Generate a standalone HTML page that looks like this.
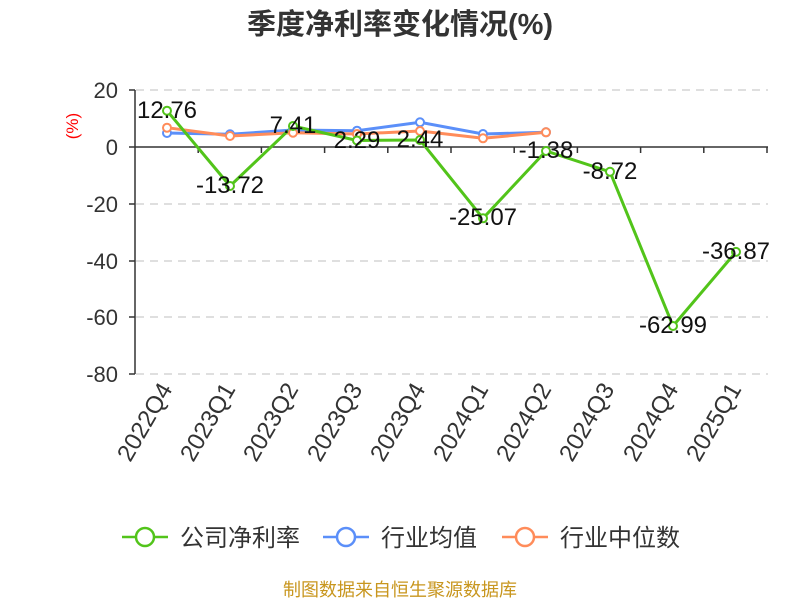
<!DOCTYPE html>
<html><head><meta charset="utf-8"><style>body{margin:0;background:#fff}svg{display:block}text{font-family:"Liberation Sans","Noto Sans CJK SC",sans-serif}</style></head><body>
<svg width="800" height="600" xmlns="http://www.w3.org/2000/svg">
<text x="400" y="34" text-anchor="middle" font-size="29" font-weight="bold" fill="#333">季度净利率变化情况(%)</text>
<g stroke="#ccc" stroke-dasharray="8,6" stroke-width="1.3">
<line x1="136" x2="768" y1="90" y2="90"/><line x1="136" x2="768" y1="204" y2="204"/><line x1="136" x2="768" y1="261" y2="261"/><line x1="136" x2="768" y1="317" y2="317"/><line x1="136" x2="768" y1="374" y2="374"/>
</g>
<g stroke="#333" stroke-width="1.5">
<line x1="135" x2="135" y1="90" y2="374"/>
<line x1="129" x2="135" y1="90" y2="90"/><line x1="129" x2="135" y1="147" y2="147"/><line x1="129" x2="135" y1="204" y2="204"/><line x1="129" x2="135" y1="261" y2="261"/><line x1="129" x2="135" y1="317" y2="317"/><line x1="129" x2="135" y1="374" y2="374"/>
<line x1="135" x2="768" y1="147" y2="147"/>
<path d="M198.2 147v6M261.4 147v6M324.6 147v6M387.8 147v6M451 147v6M514.2 147v6M577.4 147v6M640.6 147v6M703.8 147v6M767 147v6"/>
</g>
<g font-size="22" fill="#333" text-anchor="end">
<text x="118" y="98">20</text><text x="118" y="155">0</text><text x="118" y="212">-20</text><text x="118" y="269">-40</text><text x="118" y="325">-60</text><text x="118" y="382">-80</text>
</g>
<text x="78" y="126" fill="red" font-size="17" text-anchor="middle" transform="rotate(-90 78 126)">(%)</text>
<g font-size="24" fill="#333" text-anchor="end">
<text transform="translate(173,389) rotate(-60)">2022Q4</text>
<text transform="translate(236,389) rotate(-60)">2023Q1</text>
<text transform="translate(299,389) rotate(-60)">2023Q2</text>
<text transform="translate(363,389) rotate(-60)">2023Q3</text>
<text transform="translate(426,389) rotate(-60)">2023Q4</text>
<text transform="translate(489,389) rotate(-60)">2024Q1</text>
<text transform="translate(552,389) rotate(-60)">2024Q2</text>
<text transform="translate(615,389) rotate(-60)">2024Q3</text>
<text transform="translate(679,389) rotate(-60)">2024Q4</text>
<text transform="translate(742,389) rotate(-60)">2025Q1</text>
</g>
<polyline fill="none" stroke="#5b8ff9" stroke-width="3" points="167,133 230,134.3 293,130 357,130.7 420,122.3 483,134 546,132.3"/>
<polyline fill="none" stroke="#ff8c5a" stroke-width="3" points="167,127.7 230,136 293,132.7 357,134 420,131 483,138.3 546,132.3"/>
<polyline fill="none" stroke="#52c41a" stroke-width="3" points="167,110.7 230,186 293,126 357,140.5 420,140 483,218.3 546,151 610,171.8 673,326 736,251.9"/>
<g fill="#fff" stroke-width="2">
<g stroke="#5b8ff9"><circle cx="167" cy="133" r="4"/><circle cx="230" cy="134.3" r="4"/><circle cx="293" cy="130" r="4"/><circle cx="357" cy="130.7" r="4"/><circle cx="420" cy="122.3" r="4"/><circle cx="483" cy="134" r="4"/><circle cx="546" cy="132.3" r="4"/></g>
<g stroke="#ff8c5a"><circle cx="167" cy="127.7" r="4"/><circle cx="230" cy="136" r="4"/><circle cx="293" cy="132.7" r="4"/><circle cx="357" cy="134" r="4"/><circle cx="420" cy="131" r="4"/><circle cx="483" cy="138.3" r="4"/><circle cx="546" cy="132.3" r="4"/></g>
<g stroke="#52c41a"><circle cx="167" cy="110.7" r="4"/><circle cx="230" cy="186" r="4"/><circle cx="293" cy="126" r="4"/><circle cx="357" cy="140.5" r="4"/><circle cx="420" cy="140" r="4"/><circle cx="483" cy="218.3" r="4"/><circle cx="546" cy="151" r="4"/><circle cx="610" cy="171.8" r="4"/><circle cx="673" cy="326" r="4"/><circle cx="736" cy="251.9" r="4"/></g>
</g>
<g font-size="24" fill="#111" text-anchor="middle">
<text x="167" y="118">12.76</text><text x="230" y="193">-13.72</text><text x="293" y="133">7.41</text><text x="357" y="148">2.29</text><text x="420" y="147">2.44</text><text x="483" y="225">-25.07</text><text x="546" y="158">-1.38</text><text x="610" y="179">-8.72</text><text x="673" y="333">-62.99</text><text x="736" y="259">-36.87</text>
</g>
<g stroke-width="2.5" fill="#fff">
<line x1="122" x2="168" y1="537" y2="537" stroke="#52c41a"/><circle cx="145" cy="537" r="9" stroke="#52c41a"/>
<line x1="323" x2="369" y1="537" y2="537" stroke="#5b8ff9"/><circle cx="346" cy="537" r="9" stroke="#5b8ff9"/>
<line x1="502" x2="548" y1="537" y2="537" stroke="#ff8c5a"/><circle cx="525" cy="537" r="9" stroke="#ff8c5a"/>
</g>
<g font-size="24" fill="#333">
<text x="180" y="546">公司净利率</text><text x="381" y="546">行业均值</text><text x="560" y="546">行业中位数</text>
</g>
<text x="400" y="596" text-anchor="middle" font-size="18" fill="#c8961e">制图数据来自恒生聚源数据库</text>
</svg>
</body></html>
